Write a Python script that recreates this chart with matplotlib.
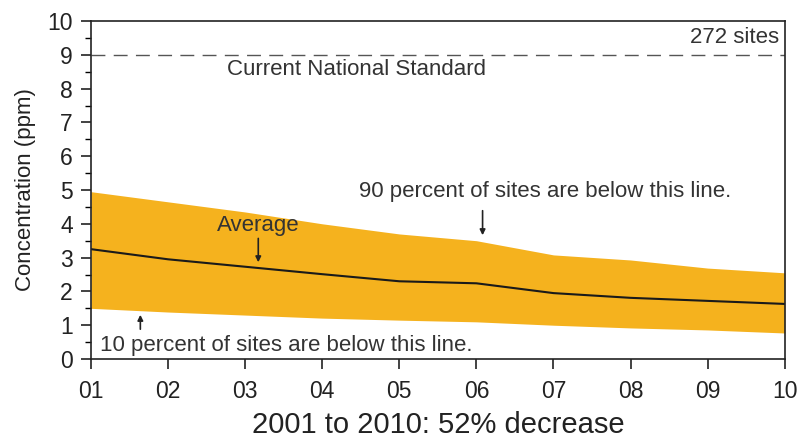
import matplotlib
matplotlib.use("Agg")
import matplotlib.pyplot as plt

plt.rcParams['font.family'] = ['Liberation Sans', 'DejaVu Sans']

# Values
years = [1, 2, 3, 4, 5, 6, 7, 8, 9, 10]
year_labels = ["01", "02", "03", "04", "05", "06", "07", "08", "09", "10"]
upper_90 = [4.95, 4.65, 4.35, 4.0, 3.7, 3.5, 3.08, 2.93, 2.69, 2.55]
lower_10 = [1.5, 1.39, 1.3, 1.21, 1.15, 1.1, 1.0, 0.92, 0.86, 0.77]
average = [3.25, 2.95, 2.73, 2.51, 2.3, 2.24, 1.95, 1.81, 1.72, 1.63]
standard = 9

fig = plt.figure(figsize=(8.09, 4.44), dpi=100)
ax = fig.add_axes([0.1125, 0.1914, 0.8575, 0.7613])

ax.fill_between(years, lower_10, upper_90, color="#F5B21E", linewidth=0)
ax.plot(years, average, color="#1a1a1a", linewidth=1.5)
ax.axhline(standard, color="#555555", linewidth=1, linestyle=(0, (10, 6)))

ax.set_xlim(1, 10)
ax.set_ylim(0, 10)
ax.set_xticks(years)
ax.set_xticklabels(year_labels)
ax.set_yticks(range(0, 11))
ax.set_yticks([i + 0.5 for i in range(10)], minor=True)
ax.tick_params(axis="both", which="major", direction="out", length=7, width=1.2,
               labelsize=16.5, colors="#222222")
ax.tick_params(axis="y", which="minor", direction="out", length=4, width=1)
ax.tick_params(axis="x", pad=8)
ax.tick_params(axis="y", pad=6)
for s in ax.spines.values():
    s.set_linewidth(1.2)
    s.set_color("#222222")

ax.set_ylabel("Concentration (ppm)", fontsize=16, color="#222222", labelpad=8)
ax.set_xlabel("2001 to 2010: 52% decrease", fontsize=21, color="#222222", labelpad=6)

ax.text(9.93, 9.2, "272 sites", ha="right", va="bottom", fontsize=16, color="#333333")
ax.text(4.45, 8.56, "Current National Standard", ha="center", va="center",
        fontsize=16, color="#333333")

ax.text(3.17, 3.95, "Average", ha="center", va="center", fontsize=16, color="#333333")
ax.annotate("", xy=(3.17, 2.78), xytext=(3.17, 3.65),
            arrowprops=dict(arrowstyle="-|>", color="#222222", lw=1.2, mutation_scale=8))

ax.text(6.89, 4.96, "90 percent of sites are below this line.", ha="center", va="center",
        fontsize=16, color="#333333")
ax.annotate("", xy=(6.08, 3.58), xytext=(6.08, 4.47),
            arrowprops=dict(arrowstyle="-|>", color="#222222", lw=1.2, mutation_scale=8))

ax.text(1.117, 0.41, "10 percent of sites are below this line.", ha="left", va="center",
        fontsize=16, color="#333333")
ax.annotate("", xy=(1.64, 1.39), xytext=(1.64, 0.8),
            arrowprops=dict(arrowstyle="-|>", color="#222222", lw=1.2, mutation_scale=8))

fig.savefig("out.png", dpi=100)
